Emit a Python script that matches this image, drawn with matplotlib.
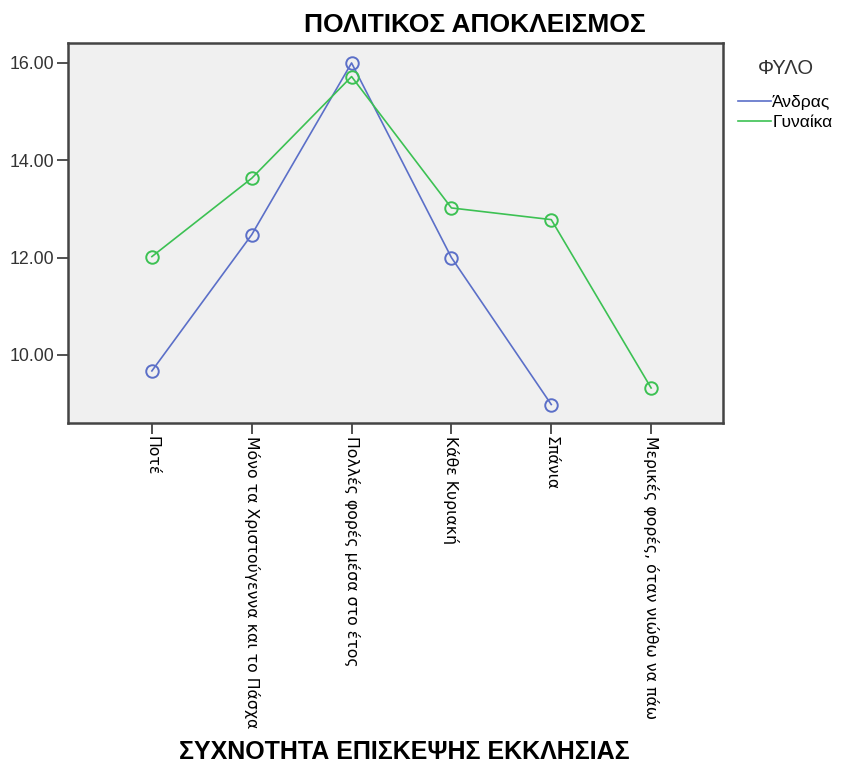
import matplotlib.pyplot as plt

# Categories (x axis) and mean values per gender
categories = [
    "Ποτέ",
    "Μόνο τα Χριστούγεννα και το Πάσχα",
    "Πολλές φορές μέσα στο έτος",
    "Κάθε Κυριακή",
    "Σπάνια",
    "Μερικές φορές, όταν νιώθω να πάω",
]
men = [9.67, 12.47, 16.0, 12.0, 8.98]
women = [12.02, 13.63, 15.72, 13.02, 12.78, 9.32]
yticks = [10, 12, 14, 16]

blue = "#5b6fc8"
green = "#3cc153"

fig = plt.figure(figsize=(8.42, 7.69), dpi=100)
ax = fig.add_axes([68 / 842, 1 - 423 / 769, (723 - 68) / 842, (423 - 43) / 769])
ax.set_facecolor("#f0f0f0")

ax.plot(range(len(men)), men, color=blue, lw=1.2, marker="o", ms=9,
        mfc="none", mec=blue, mew=1.4, label="Άνδρας")
ax.plot(range(len(women)), women, color=green, lw=1.2, marker="o", ms=9,
        mfc="none", mec=green, mew=1.4, label="Γυναίκα")

ax.set_xlim(-0.84, 5.72)
ax.set_ylim(8.6, 16.41)
ax.set_yticks(yticks)
ax.set_yticklabels([f"{v:.2f}" for v in yticks], fontsize=12.8, family="Liberation Sans",
                   color="#333333")
ax.set_xticks(range(len(categories)))
ax.set_xticklabels(categories, rotation=270, fontsize=11.3, family="DejaVu Sans",
                   va="top", ha="center")
ax.tick_params(axis="both", direction="out", length=8, width=1.2, color="#333333")
ax.tick_params(axis="x", pad=1)
ax.tick_params(axis="y", pad=2)

for s in ax.spines.values():
    s.set_color("#444444")
    s.set_linewidth(1.8)

fig.text(475 / 842, 1 - 25 / 769, "ΠΟΛΙΤΙΚΟΣ ΑΠΟΚΛΕΙΣΜΟΣ", ha="center", va="center",
         fontsize=19, fontweight="bold", family="Liberation Sans")
fig.text(404 / 842, 1 - 752 / 769, "ΣΥΧΝΟΤΗΤΑ ΕΠΙΣΚΕΨΗΣ ΕΚΚΛΗΣΙΑΣ", ha="center",
         va="center", fontsize=18, fontweight="bold", family="Liberation Sans")

leg = ax.legend(loc="upper left", bbox_to_anchor=(1.005, 0.99), frameon=False,
                title="ΦΥΛΟ", handlelength=1.85, handletextpad=0.1,
                labelspacing=0.3, borderaxespad=0.3,
                prop={"family": "Liberation Sans", "size": 12.5})
for h in leg.legend_handles:
    h.set_marker("")
leg.get_title().set_fontsize(14.5)
leg.get_title().set_family("Liberation Sans")
leg.get_title().set_color("#333333")
leg._legend_box.sep = 12

fig.savefig("out.png", dpi=100)
